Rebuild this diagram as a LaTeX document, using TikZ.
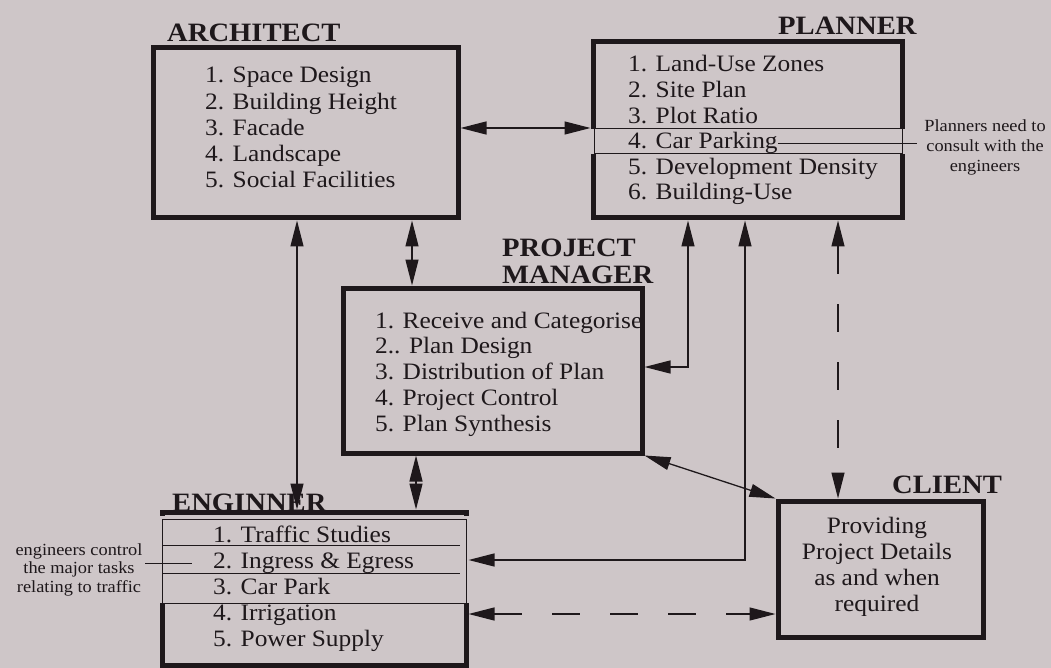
\documentclass[tikz,border=0pt]{standalone}
\usepackage{fontspec}
\setmainfont{Liberation Serif}[FakeStretch=1.08]
\usetikzlibrary{arrows.meta}
\definecolor{paper}{RGB}{206,198,200}
\definecolor{ink}{RGB}{30,24,27}
\begin{document}
\begin{tikzpicture}[x=1pt,y=-1pt,
  >={Triangle[length=26pt,width=13pt]},
  box/.style={draw=ink,line width=5pt,rectangle,inner sep=0pt},
  title/.style={font=\fontsize{26.5}{28}\selectfont\bfseries,text=ink,inner sep=0pt,anchor=base west},
  item/.style={font=\fontsize{23.5}{26}\selectfont,text=ink,inner sep=0pt,anchor=base west},
  note/.style={font=\fontsize{17}{19}\selectfont,text=ink,inner sep=0pt,anchor=base},
  link/.style={draw=ink,line width=1.3pt,<->},
  rule/.style={draw=ink,line width=1pt},
  dashlink/.style={link,dash pattern=on 28pt off 30pt}]

\fill[paper] (0,0) rectangle (1051,668);
\useasboundingbox (0,0) rectangle (1051,668);

% the five role boxes
\node[box,minimum width=305pt,minimum height=170pt] (arch) at (305.5,133) {};
\node[box,minimum width=309pt,minimum height=176pt] (pl) at (747.5,130) {};
\node[box,minimum width=299pt,minimum height=165pt] (pm) at (492.5,370.5) {};
\node[box,minimum width=304pt,minimum height=153pt] (eng) at (314,588.5) {};
\node[box,minimum width=205pt,minimum height=136pt] (cl) at (880.5,569) {};

% highlighted rows (thin frames over the thick borders)
\fill[paper] (589,129) rectangle (906,154);
\draw[rule] (594,129) rectangle (902,154);
\fill[paper] (158,516) rectangle (470,603);
\draw[rule] (162,519) rectangle (466,603);
\draw[rule] (163,545) -- (460,545);
\draw[rule] (163,573) -- (460,573);

% titles
\node[title] (tarch) at (167,42) {ARCHITECT};
\node[title] (tpl) at (778,35) {PLANNER};
\node[title] (tpm1) at (502,257) {PROJECT};
\node[title] (tpm2) at (502,283) {MANAGER};
\node[title] (teng) at (172,511) {ENGINNER};
\node[title] (tcl) at (892,493) {CLIENT};

% task lists
\foreach \t [count=\i] in {1. Space Design,2. Building Height,3. Facade,4. Landscape,5. Social Facilities}
  \node[item] (ar\i) at (205,{83+26.2*(\i-1)}) {\t};
\foreach \t [count=\i] in {1. Land-Use Zones,2. Site Plan,3. Plot Ratio,4. Car Parking,5. Development Density,6. Building-Use}
  \node[item] (pl\i) at (628,{72+25.6*(\i-1)}) {\t};
\foreach \t [count=\i] in {1. Receive and Categorise,2.. Plan Design,3. Distribution of Plan,4. Project Control,5. Plan Synthesis}
  \node[item] (pm\i) at (375,{328+25.8*(\i-1)}) {\t};
\foreach \t [count=\i] in {1. Traffic Studies,2. Ingress \& Egress,3. Car Park,4. Irrigation,5. Power Supply}
  \node[item] (en\i) at (213,{542+26*(\i-1)}) {\t};
\foreach \t [count=\i] in {Providing,Project Details,as and when,required}
  \node[item,anchor=base] (cl\i) at (877,{533+26.3*(\i-1)}) {\t};

% side notes
\foreach \t [count=\i] in {Planners need to,consult with the,engineers}
  \node[note] (pn\i) at (985,{132+20*(\i-1)}) {\t};
\foreach \t [count=\i] in {engineers control,the major tasks,relating to traffic}
  \node[note] (ea\i) at (79,{555+18.5*(\i-1)}) {\t};
\coordinate (pnl) at (917,142);
\draw[rule] (pl4.east) -- (pl4.east -| pnl);
\coordinate (eal) at (145,563);
\coordinate (ear) at (192,563);
\draw[rule] (eal) -- (ear);

% connectors
\coordinate (a1) at (297,0);
\draw[link] (arch.south -| a1) -- (eng.north -| a1);
\coordinate (a2) at (412,0);
\draw[link] (arch.south -| a2) -- (pm.north -| a2);
\coordinate (a3) at (416,0);
\draw[link] (pm.south -| a3) -- (eng.north -| a3);
\coordinate (a4) at (0,128);
\draw[link] (arch.east |- a4) -- (pl.west |- a4);
\coordinate (c1) at (688,367);
\draw[link] (pl.south -| c1) -- (c1) -- (pm.east |- c1);
\coordinate (c2) at (745,560);
\draw[link] (pl.south -| c2) -- (c2) -- (eng.east |- c2);
\coordinate (a5) at (838,0);
\draw[dashlink] (pl.south -| a5) -- (cl.north -| a5);
\coordinate (a6) at (0,614);
\draw[dashlink] (eng.east |- a6) -- (cl.west |- a6);
\draw[link] (pm.south east) -- (cl.north west);
\end{tikzpicture}
\end{document}
